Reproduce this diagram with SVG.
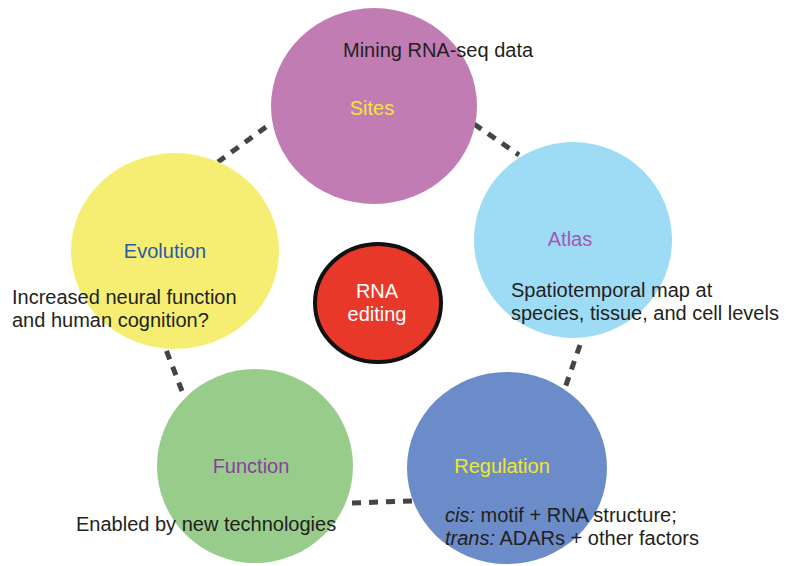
<svg xmlns="http://www.w3.org/2000/svg" width="786" height="566" viewBox="0 0 786 566">
  <style>
    text { font-family: "Liberation Sans", Arial, Helvetica, sans-serif; font-size: 20px; }
    .note { fill: #231f20; }
    .mid { text-anchor: middle; }
    .link { fill: none; stroke: #444444; stroke-width: 5; stroke-dasharray: 9 8; }
  </style>
  <rect width="786" height="566" fill="#ffffff"/>

  <!-- dashed ring linking the five themes -->
  <g id="connectors">
    <line class="link" x1="266" y1="127" x2="218" y2="162"/>
    <line class="link" x1="474" y1="124" x2="519" y2="155"/>
    <line class="link" x1="580" y1="345" x2="565" y2="388"/>
    <line class="link" x1="412" y1="501" x2="350" y2="503"/>
    <line class="link" x1="182" y1="391" x2="165" y2="347"/>
  </g>

  <g id="sites">
    <ellipse cx="374" cy="106" rx="103" ry="98" fill="#c27cb4"/>
    <text class="mid" x="372" y="115" fill="#f3e43c">Sites</text>
    <text class="note" x="343" y="57">Mining RNA-seq data</text>
  </g>

  <g id="atlas">
    <ellipse cx="573" cy="240" rx="99" ry="98" fill="#9edbf5"/>
    <text class="mid" x="570" y="246" fill="#a556b7">Atlas</text>
    <text class="note" x="511" y="297">Spatiotemporal map at</text>
    <text class="note" x="511" y="320">species, tissue, and cell levels</text>
  </g>

  <g id="evolution">
    <ellipse cx="175" cy="251" rx="104" ry="98" fill="#f5ee73"/>
    <text class="mid" x="165" y="258" fill="#2b58a8">Evolution</text>
    <text class="note" x="12" y="304">Increased neural function</text>
    <text class="note" x="12" y="327">and human cognition?</text>
  </g>

  <g id="function">
    <ellipse cx="255" cy="466" rx="98" ry="97" fill="#98cc8b"/>
    <text class="mid" x="251" y="473" fill="#8a3e9f">Function</text>
    <text class="note" x="76" y="531">Enabled by new technologies</text>
  </g>

  <g id="regulation">
    <ellipse cx="507" cy="468" rx="100" ry="96" fill="#6b8cc9"/>
    <text class="mid" x="502" y="473" fill="#f0e62c">Regulation</text>
    <text class="note" x="445" y="522"><tspan font-style="italic">cis:</tspan> motif + RNA structure;</text>
    <text class="note" x="445" y="545"><tspan font-style="italic">trans:</tspan> ADARs + other factors</text>
  </g>

  <g id="rna-editing">
    <ellipse cx="378" cy="303" rx="63" ry="59" fill="#e8382a" stroke="#111111" stroke-width="4"/>
    <text class="mid" x="377" y="298" fill="#ffffff">RNA</text>
    <text class="mid" x="377" y="321" fill="#ffffff">editing</text>
  </g>
</svg>
